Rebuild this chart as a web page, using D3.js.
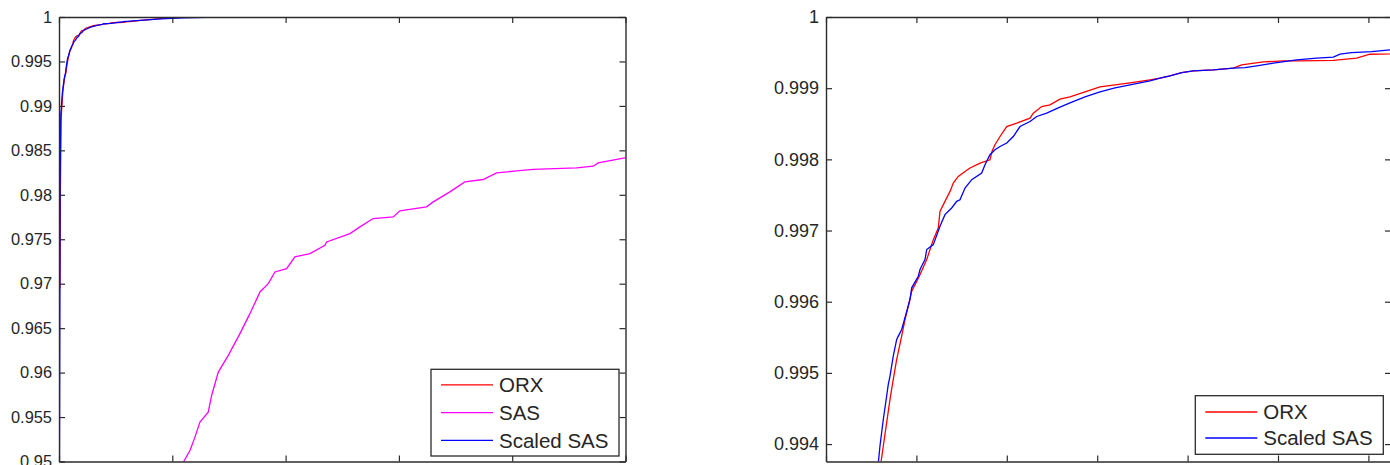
<!DOCTYPE html>
<html>
<head>
<meta charset="utf-8">
<script src="https://cdn.jsdelivr.net/npm/d3@7"></script>
<style>
  html, body { margin: 0; padding: 0; background: #fff; }
  svg { display: block; }
  text { font-family: "Liberation Sans", Arial, Helvetica, sans-serif; fill: #262626; }
</style>
</head>
<body>
<svg id="chart" width="1390" height="465"></svg>
<script>
// Empirical CDFs of loss amounts: ORX data, SAS data and SAS scaled to ORX.
const seriesNames = ["ORX", "SAS", "Scaled SAS"];

const orxLoss = [0.008, 0.012, 0.018, 0.035, 0.05, 0.0608, 0.0634, 0.0671, 0.0708, 0.0744,
  0.0782, 0.0837, 0.0874, 0.0910, 0.0948, 0.1032, 0.1114, 0.1187, 0.1242, 0.1261,
  0.1316, 0.1372, 0.1408, 0.1463, 0.1538, 0.1593, 0.1704, 0.1814, 0.1836, 0.1869,
  0.1925, 0.1999, 0.2110, 0.2257, 0.2293, 0.2386, 0.2478, 0.2588, 0.2699, 0.2865,
  0.3031, 0.3197, 0.3363, 0.3584, 0.3695, 0.3805, 0.3935, 0.4063, 0.4284, 0.4506,
  0.4598, 0.4837, 0.5059, 0.5243, 0.5612, 0.5870, 0.6018, 0.6239, 0.70, 0.80,
  0.92, 1.04];
const orxCdf = [0.9695, 0.9800, 0.9885, 0.9918, 0.9932, 0.99374, 0.993973, 0.994302, 0.994628, 0.994909,
  0.995189, 0.995516, 0.995750, 0.995937, 0.996147, 0.996358, 0.996592, 0.996872, 0.997036, 0.997269,
  0.997410, 0.997550, 0.997668, 0.997760, 0.997830, 0.997878, 0.997948, 0.997994, 0.998111, 0.998205,
  0.998321, 0.998461, 0.998509, 0.998579, 0.998649, 0.998742, 0.998766, 0.998846, 0.998878, 0.998948,
  0.999018, 0.999046, 0.999074, 0.999116, 0.999140, 0.999173, 0.999219, 0.999243, 0.999257, 0.999281,
  0.999327, 0.999369, 0.999383, 0.999383, 0.999390, 0.999421, 0.999477, 0.999481, 0.99960, 0.99970,
  0.99985, 1.0];

const sasLoss = [1.06, 1.097, 1.156, 1.200, 1.244, 1.317, 1.347, 1.406, 1.494, 1.597,
  1.685, 1.774, 1.847, 1.906, 2.009, 2.082, 2.215, 2.347, 2.362, 2.568,
  2.656, 2.773, 2.950, 3.009, 3.244, 3.303, 3.450, 3.582, 3.744, 3.862,
  4.039, 4.185, 4.568, 4.715, 4.759, 4.994, 5.05];
const sasCdf = [0.9470, 0.9499, 0.95124, 0.95274, 0.95443, 0.95555, 0.95743, 0.96006, 0.96194, 0.96438,
  0.96663, 0.96907, 0.97001, 0.97132, 0.97170, 0.97301, 0.97339, 0.97432, 0.97470, 0.97564,
  0.97639, 0.97733, 0.97751, 0.97819, 0.97864, 0.97920, 0.98033, 0.98145, 0.98172, 0.98247,
  0.98269, 0.98285, 0.98303, 0.98322, 0.98359, 0.98416, 0.98425];

const scaledLoss = [0.0, 0.006, 0.010, 0.016, 0.03, 0.045, 0.0579, 0.0597, 0.0634, 0.0671,
  0.0689, 0.0708, 0.0744, 0.0782, 0.0800, 0.0837, 0.0893, 0.0929, 0.0948, 0.1021,
  0.1040, 0.1095, 0.1114, 0.1187, 0.1261, 0.1316, 0.1390, 0.1446, 0.1482, 0.1538,
  0.1612, 0.1722, 0.1759, 0.1814, 0.1869, 0.1925, 0.1999, 0.2072, 0.2146, 0.2257,
  0.2331, 0.2441, 0.2588, 0.2699, 0.2865, 0.3031, 0.3197, 0.3363, 0.3584, 0.3695,
  0.3805, 0.3935, 0.4063, 0.4284, 0.4506, 0.4635, 0.4764, 0.4948, 0.5207, 0.5428,
  0.5612, 0.5686, 0.5815, 0.6036, 0.6239, 0.75, 0.90, 1.10, 1.30, 1.456];
const scaledCdf = [0.930, 0.960, 0.982, 0.989, 0.9915, 0.9930, 0.993740, 0.993973, 0.994348, 0.994675,
  0.994839, 0.994955, 0.995236, 0.995470, 0.995516, 0.995610, 0.995863, 0.996031, 0.996195, 0.996358,
  0.996452, 0.996592, 0.996732, 0.996802, 0.997059, 0.997223, 0.997317, 0.997410, 0.997433, 0.997597,
  0.997714, 0.997808, 0.997924, 0.998065, 0.998135, 0.998181, 0.998229, 0.998321, 0.998461, 0.998532,
  0.998602, 0.998649, 0.998734, 0.998794, 0.998878, 0.998948, 0.999004, 0.999046, 0.999102, 0.999140,
  0.999173, 0.999219, 0.999243, 0.999257, 0.999281, 0.999289, 0.999313, 0.999351, 0.999397, 0.999421,
  0.999435, 0.999477, 0.999499, 0.999513, 0.999537, 0.99965, 0.99978, 0.99990, 0.99996, 1.0];

// Axis ticks
const leftXTicks = [0, 1, 2, 3, 4, 5];
const leftYTicks = [0.95, 0.955, 0.96, 0.965, 0.97, 0.975, 0.98, 0.985, 0.99, 0.995, 1];
const leftYTickLabels = ["0.95", "0.955", "0.96", "0.965", "0.97", "0.975", "0.98", "0.985", "0.99", "0.995", "1"];
const rightXTicks = [0, 0.1, 0.2, 0.3, 0.4, 0.5, 0.6];
const rightYTicks = [0.994, 0.995, 0.996, 0.997, 0.998, 0.999, 1];
const rightYTickLabels = ["0.994", "0.995", "0.996", "0.997", "0.998", "0.999", "1"];

const seriesColor = { "ORX": "#ff0000", "SAS": "#ff00ff", "Scaled SAS": "#0000ff" };

const toPoints = (xs, ys) => xs.map((x, i) => ({ x, y: ys[i] }));
const allSeries = {
  "ORX": toPoints(orxLoss, orxCdf),
  "SAS": toPoints(sasLoss, sasCdf),
  "Scaled SAS": toPoints(scaledLoss, scaledCdf)
};

const svg = d3.select("#chart");

function drawPanel(cfg) {
  const x = d3.scaleLinear().domain(cfg.xDomain).range([cfg.left, cfg.right]);
  const y = d3.scaleLinear().domain(cfg.yDomain).range([cfg.bottom, cfg.top]);
  const g = svg.append("g");

  const clipId = "clip-" + cfg.id;
  svg.append("defs").append("clipPath").attr("id", clipId)
    .append("rect")
    .attr("x", cfg.left).attr("y", cfg.top)
    .attr("width", cfg.right - cfg.left).attr("height", cfg.bottom - cfg.top);

  const line = d3.line().x(d => x(d.x)).y(d => y(d.y));
  const plot = g.append("g").attr("clip-path", `url(#${clipId})`);
  cfg.series.forEach(name => {
    plot.append("path")
      .datum(allSeries[name])
      .attr("fill", "none")
      .attr("stroke", seriesColor[name])
      .attr("stroke-width", 1.3)
      .attr("stroke-linejoin", "miter")
      .attr("d", line);
  });

  const tick = 6;
  const styleAxis = sel => {
    sel.selectAll(".domain").attr("stroke", "#2b2b2b").attr("stroke-width", 1.4);
    sel.selectAll(".tick line").attr("stroke", "#2b2b2b").attr("stroke-width", 1.2);
  };

  g.append("g").attr("transform", `translate(0,${cfg.bottom})`)
    .call(d3.axisBottom(x).tickValues(cfg.xTicks).tickSize(-tick).tickSizeOuter(0).tickFormat(""))
    .call(styleAxis);
  g.append("g").attr("transform", `translate(0,${cfg.top})`)
    .call(d3.axisTop(x).tickValues(cfg.xTicks).tickSize(-tick).tickSizeOuter(0).tickFormat(""))
    .call(styleAxis);
  g.append("g").attr("transform", `translate(${cfg.right},0)`)
    .call(d3.axisRight(y).tickValues(cfg.yTicks).tickSize(-tick).tickSizeOuter(0).tickFormat(""))
    .call(styleAxis);
  const yAxis = g.append("g").attr("transform", `translate(${cfg.left},0)`)
    .call(d3.axisLeft(y).tickValues(cfg.yTicks).tickSize(-tick).tickSizeOuter(0).tickPadding(7)
      .tickFormat((d, i) => cfg.yTickLabels[i]))
    .call(styleAxis);
  yAxis.attr("font-family", null).attr("font-size", null);
  yAxis.selectAll(".tick text")
    .attr("fill", "#262626")
    .style("font-size", cfg.tickFont + "px");

  // Legend
  const lg = cfg.legend;
  const rowH = lg.rowH;
  const boxH = rowH * cfg.series.length + lg.padY * 2;
  const boxX = cfg.right - lg.offsetRight - lg.width;
  const boxY = cfg.bottom - lg.offsetBottom - boxH;
  const leg = g.append("g");
  leg.append("rect")
    .attr("x", boxX).attr("y", boxY)
    .attr("width", lg.width).attr("height", boxH)
    .attr("fill", "#fff").attr("stroke", "#2b2b2b").attr("stroke-width", 1.3);
  cfg.series.forEach((name, i) => {
    const cy = boxY + lg.padY + rowH * (i + 0.5);
    leg.append("line")
      .attr("x1", boxX + 10).attr("x2", boxX + 62)
      .attr("y1", cy).attr("y2", cy)
      .attr("stroke", seriesColor[name]).attr("stroke-width", 1.3);
    leg.append("text")
      .attr("x", boxX + 68).attr("y", cy)
      .attr("dy", "0.36em")
      .style("font-size", "20.5px")
      .text(name);
  });
}

drawPanel({
  id: "full",
  left: 59, right: 625.5, top: 17, bottom: 461.5,
  xDomain: [0, 5], yDomain: [0.95, 1],
  xTicks: leftXTicks, yTicks: leftYTicks, yTickLabels: leftYTickLabels,
  tickFont: 16.4,
  series: seriesNames,
  legend: { width: 188, rowH: 27.7, padY: 1.8, offsetRight: 6.5, offsetBottom: 5.5 }
});

drawPanel({
  id: "tail",
  left: 826, right: 1391, top: 17, bottom: 461.5,
  xDomain: [0, 0.625], yDomain: [0.993755, 1],
  xTicks: rightXTicks, yTicks: rightYTicks, yTickLabels: rightYTickLabels,
  tickFont: 18,
  series: ["ORX", "Scaled SAS"],
  legend: { width: 188, rowH: 26, padY: 3.3, offsetRight: 7.7, offsetBottom: 7.2 }
});
</script>
</body>
</html>
